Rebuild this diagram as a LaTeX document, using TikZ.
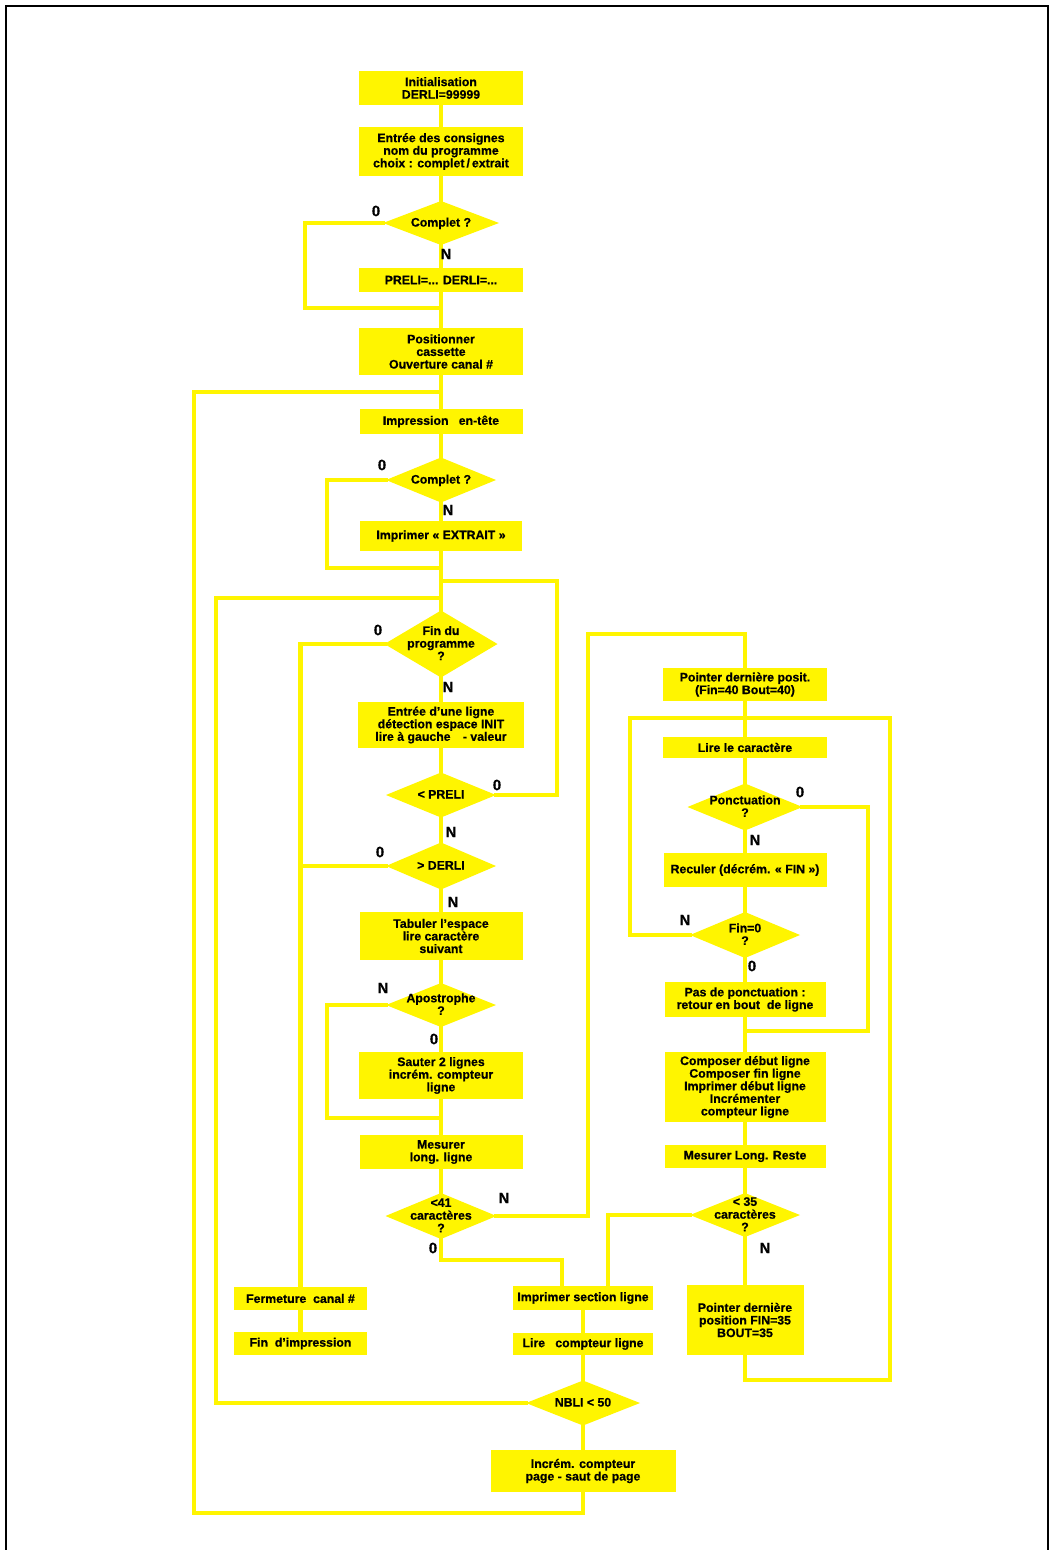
\documentclass[tikz,border=0pt]{standalone}
\usepackage{fontspec}
\setmainfont{Liberation Sans}[BoldFeatures={FakeBold=0.6}]
\usetikzlibrary{shapes.geometric}
\definecolor{yel}{RGB}{255,245,0}
\newcommand\dtx[1]{\smash{\makebox[0pt]{\raisebox{-4pt}{\begin{tabular}{@{}c@{}}#1\end{tabular}}}}}
\begin{document}
\begin{tikzpicture}[x=1pt,y=-1pt,
 box/.style={fill=yel, inner sep=0pt, outer sep=0pt, align=center, font=\bfseries\fontsize{12.3}{12.6}\selectfont},
 dia/.style={shape=diamond, fill=yel, inner sep=0pt, outer sep=0pt, font=\bfseries\fontsize{12.3}{12.6}\selectfont},
 link/.style={draw=yel, line width=4.5pt, line cap=rect},
 yn/.style={font=\bfseries\fontsize{15}{15}\selectfont, inner sep=0pt},
 frame/.style={draw=black, line width=2pt}]
\fill[white] (0,0) rectangle (1056,1550);
\useasboundingbox (0,0) rectangle (1056,1550);
\draw[frame] (6,1550) -- (6,6) -- (1048,6) -- (1048,1550);

% main column
\node[box, minimum width=164, minimum height=34] (init) at (441,88) {Initialisation\\DERLI=99999};
\node[box, minimum width=164, minimum height=49] (cons) at (441,151.5) {Entrée des consignes\\nom du programme\\choix : complet\,/\,extrait};
\node[dia, minimum width=116, minimum height=44] (c1) at (441,223) {\dtx{Complet ?}};
\node[box, minimum width=164, minimum height=24] (preli) at (441,280) {PRELI=... DERLI=...};
\node[box, minimum width=164, minimum height=47] (posit) at (441,351.5) {Positionner\\cassette\\Ouverture canal \#};
\node[box, minimum width=163, minimum height=25] (entete) at (441,421.5) {Impression\ \ \ en-tête};
\node[dia, minimum width=110, minimum height=45] (c2) at (441,480) {\dtx{Complet ?}};
\node[box, minimum width=162, minimum height=30] (extrait) at (441,536) {Imprimer « EXTRAIT »};
\node[dia, minimum width=113, minimum height=67] (dfin) at (441,644) {\dtx{Fin du\\programme\\?}};
\node[box, minimum width=166, minimum height=46] (ligne) at (441,725) {Entrée d’une ligne\\détection espace INIT\\lire à gauche\quad - valeur};
\node[dia, minimum width=110, minimum height=45] (dpreli) at (441,795) {\dtx{< PRELI}};
\node[dia, minimum width=110, minimum height=47] (dderli) at (441,866) {\dtx{> DERLI}};
\node[box, minimum width=163, minimum height=48] (tab) at (441,936) {Tabuler l’espace\\lire caractère\\suivant};
\node[dia, minimum width=110, minimum height=44] (apos) at (441,1005) {\dtx{Apostrophe\\?}};
\node[box, minimum width=164, minimum height=47] (sauter) at (441,1075.5) {Sauter 2 lignes\\incrém. compteur\\ligne};
\node[box, minimum width=163, minimum height=34] (mesur) at (441,1152) {Mesurer\\long. ligne};
\node[dia, minimum width=111, minimum height=46] (d41) at (441,1216) {\dtx{<41\\caractères\\?}};

% left
\node[box, minimum width=133, minimum height=23] (ferm) at (300.5,1298.5) {Fermeture\ \ canal \#};
\node[box, minimum width=133, minimum height=23] (finimp) at (300.5,1343.5) {Fin\ \ d’impression};

% bottom middle
\node[box, minimum width=140, minimum height=24] (isect) at (583,1298) {Imprimer section ligne};
\node[box, minimum width=140, minimum height=22] (lirec) at (583,1344) {Lire\ \ \ compteur ligne};
\node[dia, minimum width=114, minimum height=45] (nbli) at (583,1403) {\dtx{NBLI < 50}};
\node[box, minimum width=185, minimum height=42] (incp) at (583,1471) {Incrém. compteur\\page - saut de page};

% right column
\node[box, minimum width=164, minimum height=33] (pdp) at (745,684.5) {Pointer dernière posit.\\(Fin=40 Bout=40)};
\node[box, minimum width=164, minimum height=21] (lirecar) at (745,747.5) {Lire le caractère};
\node[dia, minimum width=115, minimum height=47] (ponct) at (745,807) {\dtx{Ponctuation\\?}};
\node[box, minimum width=163, minimum height=34] (recul) at (745,870) {Reculer (décrém. « FIN »)};
\node[dia, minimum width=110, minimum height=46] (fin0) at (745,935) {\dtx{Fin=0\\?}};
\node[box, minimum width=161, minimum height=35] (pasp) at (745,999.5) {Pas de ponctuation :\\retour en bout\ \ de ligne};
\node[box, minimum width=161, minimum height=70] (compo) at (745,1087) {Composer début ligne\\Composer fin ligne\\Imprimer début ligne\\Incrémenter\\compteur ligne};
\node[box, minimum width=161, minimum height=23] (mlr) at (745,1156.5) {Mesurer Long. Reste};
\node[dia, minimum width=110, minimum height=44] (d35) at (745,1215) {\dtx{< 35\\caractères\\?}};
\node[box, minimum width=117, minimum height=70] (p35) at (745,1320) {Pointer dernière\\position FIN=35\\BOUT=35};

% junction coordinates
\coordinate (j1) at (441,308);
\coordinate (j2) at (441,568);
\coordinate (j3) at (441,581);
\coordinate (j4) at (441,598);
\coordinate (j5) at (441,392);
\coordinate (j6) at (441,1118);
\coordinate (j7) at (745,634);
\coordinate (j8) at (745,718);
\coordinate (j9) at (745,1031);

% main vertical links
\draw[link] (init) -- (cons);
\draw[link] (cons) -- (c1);
\draw[link] (c1) -- (preli);
\draw[link] (preli) -- (posit);
\draw[link] (posit) -- (entete);
\draw[link] (entete) -- (c2);
\draw[link] (c2) -- (extrait);
\draw[link] (extrait) -- (dfin);
\draw[link] (dfin) -- (ligne);
\draw[link] (ligne) -- (dpreli);
\draw[link] (dpreli) -- (dderli);
\draw[link] (dderli) -- (tab);
\draw[link] (tab) -- (apos);
\draw[link] (apos) -- (sauter);
\draw[link] (sauter) -- (mesur);
\draw[link] (mesur) -- (d41);
\draw[link] (ferm) -- (finimp);
\draw[link] (isect) -- (lirec);
\draw[link] (lirec) -- (nbli);
\draw[link] (nbli) -- (incp);
\draw[link] (pdp) -- (lirecar);
\draw[link] (lirecar) -- (ponct);
\draw[link] (ponct) -- (recul);
\draw[link] (recul) -- (fin0);
\draw[link] (fin0) -- (pasp);
\draw[link] (pasp) -- (compo);
\draw[link] (compo) -- (mlr);
\draw[link] (mlr) -- (d35);
\draw[link] (d35) -- (p35);

% branches
\draw[link] (c1.west) -- ++(-78,0) |- (j1);
\draw[link] (c2.west) -- ++(-59,0) |- (j2);
\draw[link] (dpreli.east) -- ++(61,0) |- (j3);
\draw[link] (nbli.west) -- ++(-310,0) |- (j4);
\draw[link] (incp.south) -- ++(0,21) -- ++(-389,0) |- (j5);
\draw[link] (dfin.west) -| (ferm.north);
\draw[link] (dderli.west) -- (ferm.north |- dderli.west);
\draw[link] (apos.west) -- ++(-59,0) |- (j6);
\draw[link] (d41.south) -- ++(0,21) -| ([xshift=-21pt]isect.north);
\draw[link] (d35.west) -| ([xshift=25pt]isect.north);
\draw[link] (d41.east) -- ++(91.5,0) |- (j7) -- (pdp.north);
\draw[link] (fin0.west) -- ++(-60,0) |- (j8);
\draw[link] (p35.south) -- ++(0,25) -- ++(145,0) |- (j8);
\draw[link] (ponct.east) -- ++(65.5,0) |- (j9);

% O / N labels
\node[yn] (l1o) at (376,211) {0};
\node[yn] (l1n) at (446,254) {N};
\node[yn] (l2o) at (382,465) {0};
\node[yn] (l2n) at (448,510) {N};
\node[yn] (l3o) at (378,630) {0};
\node[yn] (l3n) at (448,687) {N};
\node[yn] (l4o) at (497,785) {0};
\node[yn] (l4n) at (451,832) {N};
\node[yn] (l5o) at (380,852) {0};
\node[yn] (l5n) at (453,902) {N};
\node[yn] (l6n) at (383,988) {N};
\node[yn] (l6o) at (434,1039) {0};
\node[yn] (l7n) at (504,1198) {N};
\node[yn] (l7o) at (433,1248) {0};
\node[yn] (l8o) at (800,792) {0};
\node[yn] (l8n) at (755,840) {N};
\node[yn] (l9n) at (685,920) {N};
\node[yn] (l9o) at (752,966) {0};
\node[yn] (l10n) at (765,1248) {N};
\end{tikzpicture}
\end{document}
